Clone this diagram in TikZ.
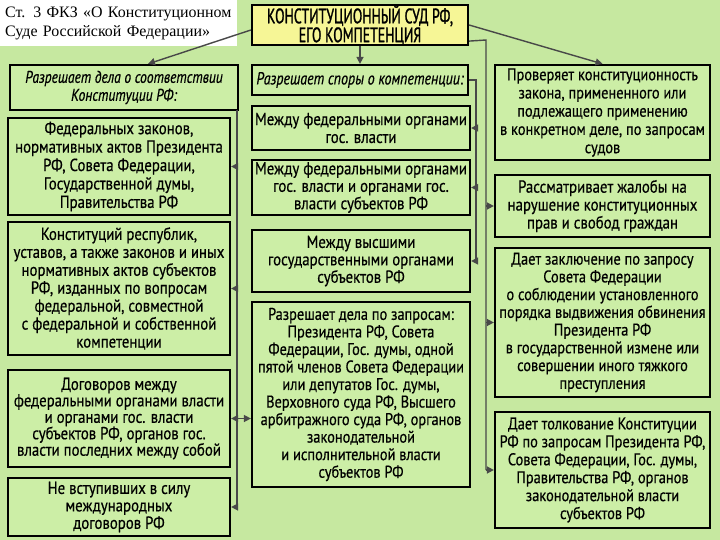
\documentclass[tikz,border=0pt]{standalone}
\usepackage{fontspec}
\setmainfont{PT Sans}[FakeStretch=0.85,FakeBold=0.5]
\newfontfamily\itfont{PT Sans Italic}[FakeStretch=0.8,FakeBold=0.5]
\newfontfamily\titlefont{PT Sans}[FakeStretch=0.66,FakeBold=1.2]
\newfontfamily\srcfont{Liberation Serif}
\usetikzlibrary{arrows.meta}
\definecolor{bg}{RGB}{198,232,160}
\definecolor{boxfill}{RGB}{204,238,166}
\definecolor{ttl}{RGB}{246,246,150}
\definecolor{conncol}{RGB}{72,72,72}
\begin{document}
\begin{tikzpicture}[x=1bp,y=-1bp,
  box/.style={draw=black,line width=2.2bp,fill=boxfill,inner sep=0pt,align=center,font=\fontsize{17.5}{18}\selectfont},
  conn/.style={draw=conncol,line width=1.4bp},
  arr/.style={conn,-{Triangle[length=7bp,width=7bp]}}]
\useasboundingbox (0,0) rectangle (720,540);
\fill[bg] (0,0) rectangle (720,540);
% source note
\node[fill=white,inner xsep=5bp,inner ysep=0pt,text width=227bp,minimum height=46bp,anchor=north west,align=left,font=\srcfont\fontsize{16}{19}\selectfont] (src) at (0,0) {Ст. 3 ФКЗ «О Конституционном\\Суде Российской Федерации»};
% title
\node[box,fill=ttl,minimum width=216bp,minimum height=40bp,font=\titlefont\fontsize{21}{19}\selectfont] (T) at (360,25) {КОНСТИТУЦИОННЫЙ СУД РФ,\\ЕГО КОМПЕТЕНЦИЯ};
% column 1
\node[box,minimum width=228bp,minimum height=45bp,font=\itfont\fontsize{17}{18}\selectfont] (A0) at (124,87.5) {Разрешает дела о соответствии\\Конституции РФ:};
\node[box,minimum width=222bp,minimum height=97bp,font=\fontsize{17.5}{18.5}\selectfont] (A1) at (119,166.5) {Федеральных законов,\\нормативных актов Президента\\РФ, Совета Федерации,\\Государственной думы,\\Правительства РФ};
\node[box,minimum width=222bp,minimum height=133bp,font=\fontsize{17.5}{18}\selectfont] (A2) at (119,288.5) {Конституций республик,\\уставов, а также законов и иных\\нормативных актов субъектов\\РФ, изданных по вопросам\\федеральной, совместной\\с федеральной и собственной\\компетенции};
\node[box,minimum width=222bp,minimum height=97bp,font=\fontsize{17.5}{16.5}\selectfont] (A3) at (119,418.5) {Договоров между\\федеральными органами власти\\и органами гос. власти\\субъектов РФ, органов гос.\\власти последних между собой};
\node[box,minimum width=222bp,minimum height=58bp,font=\fontsize{17.5}{17.5}\selectfont] (A4) at (119,507) {Не вступивших в силу\\международных\\договоров РФ};
% column 2
\node[box,minimum width=216bp,minimum height=30bp,font=\itfont\fontsize{17.5}{18}\selectfont] (B0) at (360,80) {Разрешает споры о компетенции:};
\node[box,minimum width=218bp,minimum height=44bp,font=\fontsize{17.5}{18}\selectfont] (B1) at (361,128) {Между федеральными органами\\гос. власти};
\node[box,minimum width=218bp,minimum height=55bp,font=\fontsize{17.5}{17.5}\selectfont] (B2) at (361,187.5) {Между федеральными органами\\гос. власти и органами гос.\\власти субъектов РФ};
\node[box,minimum width=218bp,minimum height=62bp,font=\fontsize{17.5}{17.5}\selectfont] (B3) at (361,261) {Между высшими\\государственными органами\\субъектов РФ};
\node[box,minimum width=218bp,minimum height=185bp,font=\fontsize{17}{17.6}\selectfont] (B4) at (361,394.5) {Разрешает дела по запросам:\\Президента РФ, Совета\\Федерации, Гос. думы, одной\\пятой членов Совета Федерации\\или депутатов Гос. думы,\\Верховного суда РФ, Высшего\\арбитражного суда РФ, органов\\законодательной\\и исполнительной власти\\субъектов РФ};
% column 3
\node[box,minimum width=215bp,minimum height=95bp,font=\fontsize{17}{18.3}\selectfont] (C1) at (602.5,112.5) {Проверяет конституционность\\закона, примененного или\\подлежащего применению\\в конкретном деле, по запросам\\судов};
\node[box,minimum width=215bp,minimum height=62bp,font=\fontsize{17.5}{18}\selectfont] (C2) at (602.5,206) {Рассматривает жалобы на\\нарушение конституционных\\прав и свобод граждан};
\node[box,minimum width=215bp,minimum height=149bp,font=\fontsize{17}{17.8}\selectfont] (C3) at (602.5,322.5) {Дает заключение по запросу\\Совета Федерации\\о соблюдении установленного\\порядка выдвижения обвинения\\Президента РФ\\в государственной измене или\\совершении иного тяжкого\\преступления};
\node[box,minimum width=215bp,minimum height=116bp,font=\fontsize{17}{18}\selectfont] (C4) at (602.5,470) {Дает толкование Конституции\\РФ по запросам Президента РФ,\\Совета Федерации, Гос. думы,\\Правительства РФ, органов\\законодательной власти\\субъектов РФ};
% connectors from title
\draw[arr] ([yshift=-5bp]T.west) -- ([xshift=24bp]A0.north);
\draw[arr] (T.east) -- (C1.north);
\draw[arr] (T.south) -- (B0.north);
% column 2 bracket
\coordinate (J2) at (476,80);
\draw[conn] (B0.east) -- (J2) -- (J2 |- B3.east);
\draw[arr] (J2 |- B1.east) -- (B1.east);
\draw[arr] (J2 |- B2.east) -- (B2.east);
\draw[arr] (J2 |- B3.east) -- (B3.east);
% column 3 bracket
\coordinate (J3) at (486,40);
\draw[conn] ([yshift=5bp]T.south east) -- (J3) -- (J3 |- C4.west);
\draw[arr] (J3 |- C2.west) -- (C2.west);
\draw[arr] (J3 |- C3.west) -- (C3.west);
\draw[arr] (J3 |- C4.west) -- (C4.west);
% column 1 bracket
\coordinate (J1) at (237,110);
\draw[conn] (J1) -- (J1 |- A4.east);
\draw[arr] (J1 |- A1.east) -- (A1.east);
\draw[arr] (J1 |- A2.east) -- (A2.east);
\draw[arr] (J1 |- A3.east) -- (A3.east);
\draw[arr] (J1 |- A4.east) -- (A4.east);
\draw[arr] (J1 |- A3.east) -- (B4.west |- A3.east);
\end{tikzpicture}
\end{document}
